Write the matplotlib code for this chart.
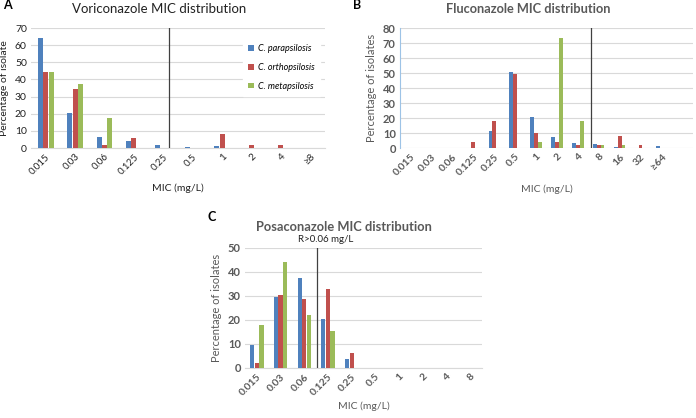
import matplotlib
matplotlib.use("Agg")
import matplotlib.pyplot as plt
import numpy as np

plt.rcParams['font.family'] = ['Lato', 'DejaVu Sans']

# ---- data ----
series_names = ["C. parapsilosis", "C. orthopsilosis", "C. metapsilosis"]
colors = ["#4F81BD", "#C0504D", "#9BBB59"]

vori_cats = ["0.015", "0.03", "0.06", "0.125", "0.25", "0.5", "1", "2", "4", "≥8"]
vori_para = [64.2, 20.3, 6.3, 4.0, 2.0, 0.4, 1.0, 0.2, 0.0, 0.0]
vori_ortho = [44.6, 34.5, 1.9, 5.9, 0.0, 0.0, 8.2, 2.0, 2.0, 0.0]
vori_meta = [44.3, 37.6, 17.6, 0.0, 0.0, 0.0, 0.0, 0.0, 0.0, 0.0]

fluco_cats = ["0.015", "0.03", "0.06", "0.125", "0.25", "0.5", "1", "2", "4", "8", "16", "32", "≥64", ""]
fluco_para = [0, 0, 0, 0.2, 11.3, 50.4, 20.4, 7.3, 3.3, 2.9, 0.9, 0.2, 1.5, 0]
fluco_ortho = [0, 0, 0, 4.0, 18.2, 49.3, 10.0, 4.0, 1.8, 1.8, 8.2, 2.0, 0, 0]
fluco_meta = [0, 0, 0, 0, 0, 0, 4.2, 73.3, 17.8, 2.0, 2.0, 0, 0, 0]

posa_cats = ["0.015", "0.03", "0.06", "0.125", "0.25", "0.5", "1", "2", "4", "8"]
posa_para = [9.5, 29.4, 37.3, 20.4, 3.6, 0, 0, 0, 0, 0]
posa_ortho = [2.2, 30.5, 28.6, 33.0, 6.4, 0, 0, 0, 0, 0]
posa_meta = [18.0, 44.3, 22.2, 15.6, 0, 0, 0, 0, 0, 0]

W, H = 696, 418
fig = plt.figure(figsize=(W / 100, H / 100), dpi=100)


def box(l, t, r, b):
    return [l / W, 1 - b / H, (r - l) / W, (b - t) / H]


def draw(ax, cats, series, ymax, ystep, barw, tickcol, tickfs, tickweight):
    n = len(cats)
    x = np.arange(n)
    for i, (vals, c) in enumerate(zip(series, colors)):
        ax.bar(x + (i - 1) * barw * 1.08, vals, width=barw, color=c,
               label=series_names[i], zorder=3)
    ax.set_xlim(-0.5, n - 0.5)
    ax.set_ylim(0, ymax)
    ax.set_yticks(np.arange(0, ymax + 0.1, ystep))
    ax.set_xticks(x)
    ax.set_xticklabels(cats, rotation=45, ha='right', rotation_mode='anchor',
                       fontsize=tickfs, color=tickcol, fontweight=tickweight)
    for lab in ax.get_yticklabels():
        lab.set_fontsize(tickfs + 0.5)
        lab.set_color(tickcol)
        lab.set_fontweight(tickweight)
    ax.yaxis.grid(True, color="#D9D9D9", linewidth=0.8, zorder=0)
    for s in ["top", "right", "left"]:
        ax.spines[s].set_visible(False)
    ax.spines["bottom"].set_color("#D9D9D9")
    ax.tick_params(length=0, pad=3)


# ---- Panel A ----
axA = fig.add_axes(box(31, 28, 325, 148))
draw(axA, vori_cats, [vori_para, vori_ortho, vori_meta], 70, 10, 0.17,
     "#222222", 7, "normal")
axA.axvline(4.2, color="#404040", linewidth=0.9, zorder=4)
axA.set_ylabel("Percentage of isolate", fontsize=7.5, color="#222222", labelpad=4)
axA.set_xlabel("MIC (mg/L)", fontsize=7.5, color="#222222", labelpad=5)
fig.text(159 / W, 1 - 9 / H, "Voriconazole MIC distribution", fontsize=9.5,
         color="#222222", ha="center", va="center")
leg = axA.legend(loc="upper right", bbox_to_anchor=(1.0, 0.95), frameon=True,
                 prop={'style': 'italic', 'size': 6.5}, handlelength=0.6,
                 handleheight=0.6, labelspacing=1.1, borderpad=0.6,
                 handletextpad=0.5, fancybox=False)
leg.get_frame().set_edgecolor("white")
leg.get_frame().set_facecolor("white")
leg.get_frame().set_alpha(1)
fig.text(3 / W, 1 - 9 / H, "A", fontsize=9, fontweight="bold")

# ---- Panel B ----
axB = fig.add_axes(box(400, 28, 693, 148))
draw(axB, fluco_cats, [fluco_para, fluco_ortho, fluco_meta], 80, 10, 0.17,
     "#595959", 7.5, "bold")
axB.spines["left"].set_visible(True)
axB.spines["left"].set_color("#9DC3E6")
axB.spines["bottom"].set_visible(False)
axB.axvline(8.63, color="#404040", linewidth=0.9, zorder=4)
axB.set_ylabel("Percentage of isolates", fontsize=8, color="#595959", labelpad=4)
axB.set_xlabel("MIC (mg/L)", fontsize=7.5, color="#595959", labelpad=5)
fig.text(528 / W, 1 - 9 / H, "Fluconazole MIC distribution", fontsize=9.2,
         color="#595959", fontweight="bold", ha="center", va="center")
fig.text(353 / W, 1 - 9 / H, "B", fontsize=9, fontweight="bold")

# ---- Panel C ----
axC = fig.add_axes(box(245, 248, 482, 368))
draw(axC, posa_cats, [posa_para, posa_ortho, posa_meta], 50, 10, 0.18,
     "#595959", 7.5, "bold")
axC.axvline(2.55, color="#404040", linewidth=0.9, zorder=4)
axC.text(2.9, 51.5, "R>0.06 mg/L", fontsize=7, color="#222222", ha="center",
         va="bottom")
axC.set_ylabel("Percentage of isolates", fontsize=8, color="#595959", labelpad=4)
axC.set_xlabel("MIC (mg/L)", fontsize=7.5, color="#595959", labelpad=3)
fig.text(344 / W, 1 - 227 / H, "Posaconazole MIC distribution", fontsize=9.3,
         color="#595959", fontweight="bold", ha="center", va="center")
fig.text(207 / W, 1 - 221 / H, "C", fontsize=9, fontweight="bold")

fig.savefig("out.png", dpi=100)
